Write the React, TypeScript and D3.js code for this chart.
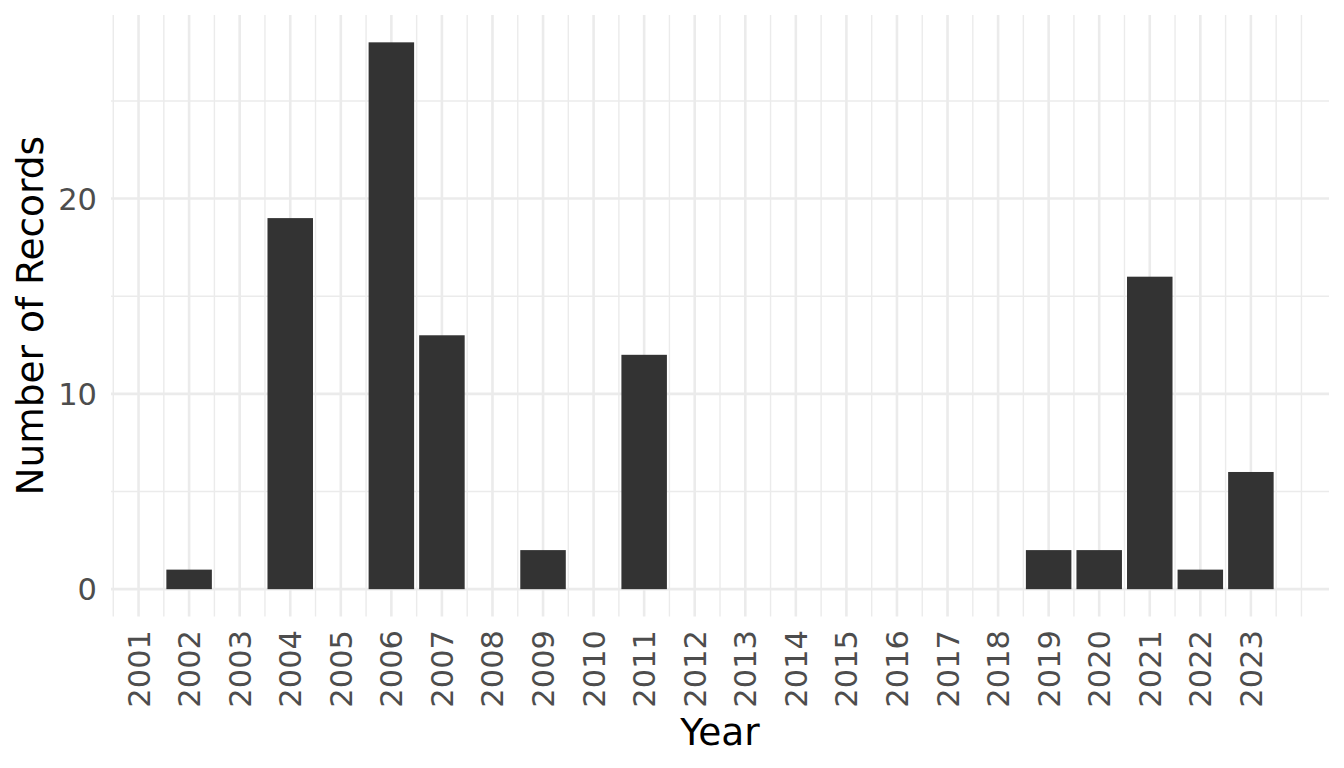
import React, { useEffect, useRef } from 'react';
import * as d3 from 'd3';

// values
const years: number[] = [2002, 2004, 2006, 2007, 2009, 2011, 2019, 2020, 2021, 2022, 2023];
const counts: number[] = [1, 19, 28, 13, 2, 12, 2, 2, 16, 1, 6];
const xBreaks: number[] = d3.range(2001, 2024);
const xMinor: number[] = d3.range(2000.5, 2024.01, 0.5).filter(v => !xBreaks.includes(v));
const yBreaks: number[] = [0, 10, 20];
const yMinor: number[] = [5, 15, 25];

const W = 1344;
const H = 768;
const FONT = '"DejaVu Sans", sans-serif';

const App: React.FC = () => {
  const svgRef = useRef<SVGSVGElement>(null);

  useEffect(() => {
    if (!svgRef.current) return;
    const svg = d3.select(svgRef.current);
    svg.selectAll('*').remove();

    const left = 111, right = 1329, top = 15, bottom = 616.5;

    // ggplot-style 5% expansion around the bar extents
    const barW = 0.9;
    const lo = d3.min(years)! - barW / 2;
    const hi = d3.max(years)! + barW / 2;
    const padX = (hi - lo) * 0.05;
    const x = d3.scaleLinear().domain([lo - padX, hi + padX]).range([left, right]);

    const yMax = d3.max(counts)!;
    const y = d3.scaleLinear().domain([-yMax * 0.05, yMax * 1.05]).range([bottom, top]);

    const g = svg.append('g');

    // minor grid
    g.selectAll('.vminor').data(xMinor).enter().append('line')
      .attr('x1', d => x(d)).attr('x2', d => x(d))
      .attr('y1', top).attr('y2', bottom)
      .style('stroke', '#EBEBEB').style('stroke-width', 1.4);
    g.selectAll('.hminor').data(yMinor).enter().append('line')
      .attr('x1', left).attr('x2', right)
      .attr('y1', d => y(d)).attr('y2', d => y(d))
      .style('stroke', '#EBEBEB').style('stroke-width', 1.4);

    // major grid
    g.selectAll('.vmajor').data(xBreaks).enter().append('line')
      .attr('x1', d => x(d)).attr('x2', d => x(d))
      .attr('y1', top).attr('y2', bottom)
      .style('stroke', '#EBEBEB').style('stroke-width', 2.6);
    g.selectAll('.hmajor').data(yBreaks).enter().append('line')
      .attr('x1', left).attr('x2', right)
      .attr('y1', d => y(d)).attr('y2', d => y(d))
      .style('stroke', '#EBEBEB').style('stroke-width', 2.6);

    // bars
    const data = years.map((yr, i) => ({ yr, n: counts[i] }));
    g.selectAll('.bar').data(data).enter().append('rect')
      .attr('x', d => x(d.yr - barW / 2))
      .attr('width', d => x(d.yr + barW / 2) - x(d.yr - barW / 2))
      .attr('y', d => y(d.n))
      .attr('height', d => y(0) - y(d.n))
      .style('fill', '#333333');

    // y tick labels
    g.selectAll('.ytick').data(yBreaks).enter().append('text')
      .attr('x', 97)
      .attr('y', d => y(d))
      .attr('dy', '0.36em')
      .attr('text-anchor', 'end')
      .style('font-family', FONT)
      .style('font-size', '30.5px')
      .style('fill', '#4D4D4D')
      .text(d => d);

    // x tick labels (rotated)
    g.selectAll('.xtick').data(xBreaks).enter().append('text')
      .attr('transform', d => `translate(${x(d)},630) rotate(-90)`)
      .attr('dy', '0.36em')
      .attr('text-anchor', 'end')
      .style('font-family', FONT)
      .style('font-size', '30.5px')
      .style('fill', '#4D4D4D')
      .text(d => d);

    // axis titles
    g.append('text')
      .attr('x', (left + right) / 2)
      .attr('y', 745)
      .attr('text-anchor', 'middle')
      .style('font-family', FONT)
      .style('font-size', '37.5px')
      .style('fill', '#000')
      .text('Year');

    g.append('text')
      .attr('transform', `translate(43,${(top + bottom) / 2}) rotate(-90)`)
      .attr('text-anchor', 'middle')
      .style('font-family', FONT)
      .style('font-size', '37.5px')
      .style('fill', '#000')
      .text('Number of Records');
  }, []);

  return (
    <div style={{ position: 'fixed', left: 0, top: 0, width: W, height: H, background: '#fff' }}>
      <svg ref={svgRef} width={W} height={H} style={{ display: 'block' }}></svg>
    </div>
  );
};

export default App;
